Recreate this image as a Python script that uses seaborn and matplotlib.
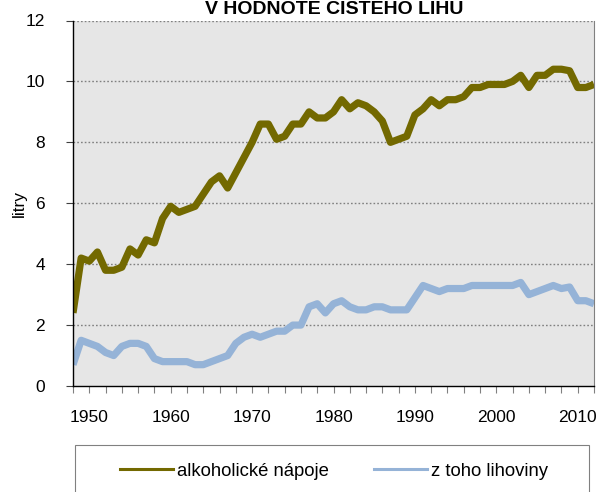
import matplotlib
matplotlib.use("Agg")
import matplotlib.pyplot as plt
from matplotlib.patches import Rectangle
import seaborn as sns
import pandas as pd

years = list(range(1948, 2013))
alkoholicke_napoje = [
    2.4, 4.2, 4.1, 4.4, 3.8, 3.8, 3.9, 4.5, 4.3, 4.8,
    4.7, 5.5, 5.9, 5.7, 5.8, 5.9, 6.3, 6.7, 6.9, 6.5,
    7.0, 7.5, 8.0, 8.6, 8.6, 8.1, 8.2, 8.6, 8.6, 9.0,
    8.8, 8.8, 9.0, 9.4, 9.1, 9.3, 9.2, 9.0, 8.7, 8.0,
    8.1, 8.2, 8.9, 9.1, 9.4, 9.2, 9.4, 9.4, 9.5, 9.8,
    9.8, 9.9, 9.9, 9.9, 10.0, 10.2, 9.8, 10.2, 10.2, 10.4,
    10.4, 10.35, 9.8, 9.8, 9.9,
]
z_toho_lihoviny = [
    0.7, 1.5, 1.4, 1.3, 1.1, 1.0, 1.3, 1.4, 1.4, 1.3,
    0.9, 0.8, 0.8, 0.8, 0.8, 0.7, 0.7, 0.8, 0.9, 1.0,
    1.4, 1.6, 1.7, 1.6, 1.7, 1.8, 1.8, 2.0, 2.0, 2.6,
    2.7, 2.4, 2.7, 2.8, 2.6, 2.5, 2.5, 2.6, 2.6, 2.5,
    2.5, 2.5, 2.9, 3.3, 3.2, 3.1, 3.2, 3.2, 3.2, 3.3,
    3.3, 3.3, 3.3, 3.3, 3.3, 3.4, 3.0, 3.1, 3.2, 3.3,
    3.2, 3.25, 2.8, 2.8, 2.7,
]
series_names = ["alkoholické nápoje", "z toho lihoviny"]
colors = ["#736900", "#95B3D7"]
x_tick_labels = [1950, 1960, 1970, 1980, 1990, 2000, 2010]
y_ticks = [0, 2, 4, 6, 8, 10, 12]
title = "V HODNOTĚ ČISTÉHO LIHU"
y_label = "litry"

df = pd.DataFrame({
    "rok": years * 2,
    "hodnota": alkoholicke_napoje + z_toho_lihoviny,
    "serie": [series_names[0]] * len(years) + [series_names[1]] * len(years),
})

plt.rcParams["font.family"] = ["Liberation Sans", "DejaVu Sans"]
W, H = 598, 492
fig = plt.figure(figsize=(W / 100, H / 100), dpi=100)
ax = fig.add_axes([73 / W, 1 - 386 / H, (594 - 73) / W, (386 - 20.5) / H])
ax.set_facecolor("#E6E6E6")

sns.lineplot(data=df, x="rok", y="hodnota", hue="serie", hue_order=series_names,
             palette=colors, linewidth=5.2, ax=ax, legend=False,
             solid_joinstyle="round", solid_capstyle="butt")

ax.set_xlim(1948, 2012)
ax.set_ylim(0, 12)
ax.set_yticks(y_ticks)
ax.set_yticklabels([str(v) for v in y_ticks], fontsize=12.5)
ax.set_xticks(list(range(1948, 2013, 2)))
ax.set_xticklabels([str(y) if y in x_tick_labels else "" for y in range(1948, 2013, 2)],
                   fontsize=12.5)
ax.tick_params(axis="y", direction="out", length=5, width=0.8, color="#404040", pad=15)
ax.tick_params(axis="x", direction="out", length=5, width=0.8, color="#808080", pad=12)
ax.set_xlabel("")
ax.set_ylabel(y_label, fontsize=12.5)
ax.yaxis.set_label_coords(-46 / (594 - 73), 0.5)

for y in y_ticks[1:]:
    ax.axhline(y, color="#808080", linestyle=(0, (1.2, 1.5)), linewidth=1.0, zorder=0.5)

ax.spines["top"].set_visible(False)
ax.spines["left"].set_color("black")
ax.spines["left"].set_linewidth(1.0)
ax.spines["bottom"].set_color("black")
ax.spines["bottom"].set_linewidth(1.0)
ax.spines["right"].set_color("#808080")
ax.spines["right"].set_linewidth(0.8)

fig.text(334 / W, 1 - 14.5 / H, title, ha="center", va="baseline",
         fontsize=14, fontweight="bold")

handles = [plt.Line2D([], [], color=c, linewidth=2.2) for c in colors]
fig.legend(handles, series_names, loc="center", bbox_to_anchor=(334 / W, 1 - 471 / H),
           ncol=2, frameon=False, fontsize=13.3, handlelength=2.87, handletextpad=0.22,
           columnspacing=2.4, borderpad=0, borderaxespad=0)
fig.patches.append(Rectangle((75 / W, -0.05), (589 - 75) / W, (492 - 445) / H + 0.05,
                             transform=fig.transFigure, fill=False,
                             edgecolor="#808080", linewidth=0.8))

fig.savefig("out.png", dpi=100)
